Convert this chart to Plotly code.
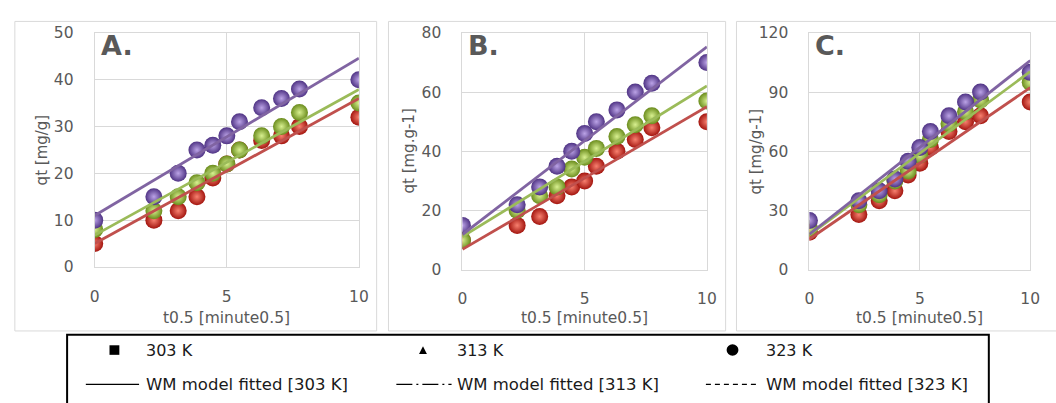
import plotly.graph_objects as go

# ---- data -------------------------------------------------------------
sqrt_t = [0, 2.24, 3.16, 3.87, 4.47, 5.0, 5.48, 6.32, 7.07, 7.75, 10]

temps = ["303 K", "313 K", "323 K"]
panel_letters = ["A.", "B.", "C."]
y_titles = ["qt [mg/g]", "qt [mg.g-1]", "qt [mg/g-1]"]
x_title = "t0.5 [minute0.5]"

# adsorbed amount qt for each panel, one list per temperature
qt_A_303 = [5, 10, 12, 15, 19, 22, 25, 27, 28, 30, 32]
qt_A_313 = [8, 12, 15, 18, 20, 22, 25, 28, 30, 33, 35]
qt_A_323 = [10, 15, 20, 25, 26, 28, 31, 34, 36, 38, 40]

qt_B_303 = [10, 15, 18, 25, 28, 30, 35, 40, 44, 48, 50]
qt_B_313 = [10, 20, 25, 28, 34, 38, 41, 45, 49, 52, 57]
qt_B_323 = [15, 22, 28, 35, 40, 46, 50, 54, 60, 63, 70]

qt_C_303 = [19, 28, 35, 40, 48, 54, 62, 70, 75, 78, 85]
qt_C_313 = [21, 33, 38, 45, 50, 58, 66, 74, 80, 86, 95]
qt_C_323 = [25, 35, 40, 46, 55, 62, 70, 78, 85, 90, 100]

# Weber-Morris fitted lines: qt = intercept + slope * t^0.5
wm_intercept_A = [5.0, 6.8, 11.0]
wm_slope_A = [3.10, 3.11, 3.36]
wm_intercept_B = [6.9, 11.2, 11.9]
wm_slope_B = [4.82, 5.09, 6.34]
wm_intercept_C = [15.6, 17.7, 18.0]
wm_slope_C = [7.67, 8.27, 8.80]

y_max = [50, 80, 120]
y_dtick = [10, 20, 30]
x_fit = [0, 10]

panels = [
    ([qt_A_303, qt_A_313, qt_A_323], wm_intercept_A, wm_slope_A),
    ([qt_B_303, qt_B_313, qt_B_323], wm_intercept_B, wm_slope_B),
    ([qt_C_303, qt_C_313, qt_C_323], wm_intercept_C, wm_slope_C),
]

# ---- styling ------------------------------------------------------------
W, H = 1056, 403
line_colors = ["#C0504D", "#9BBB59", "#8064A2"]
sphere_edge = ["#A3150F", "#6A8C1C", "#4F3384"]
sphere_core = ["#F7806F", "#D8F090", "#BBA3E6"]
grid = "#D9D9D9"
tick_gray = "#595959"
FONT = "DejaVu Sans"

# plot areas in pixels: (left, right, top, bottom)
areas = [(91, 359, 25, 270), (464, 712, 25, 273), (816, 1040, 25, 273)]
# outer panel frames in pixels
frames = [(10, 377, 13, 337), (389, 731, 13, 337), (742, 1070, 13, 337)]


def px(x):
    return x / W


def py(y):
    return 1 - y / H


fig = go.Figure()
annotations = []
shapes = []

for i, (series, icpt, slope) in enumerate(panels):
    sfx = "" if i == 0 else str(i + 1)
    xa, ya = "x" + sfx, "y" + sfx
    for k, qt in enumerate(series):
        fig.add_trace(go.Scatter(
            x=sqrt_t, y=qt, mode="markers", xaxis=xa, yaxis=ya,
            showlegend=False, name=temps[k],
            marker=dict(size=17, color=sphere_edge[k], line=dict(width=0),
                        gradient=dict(type="radial", color=sphere_core[k])),
        ))
    for k in range(3):
        fig.add_trace(go.Scatter(
            x=x_fit, y=[icpt[k] + slope[k] * x for x in x_fit],
            mode="lines", xaxis=xa, yaxis=ya, showlegend=False,
            line=dict(color=line_colors[k], width=2.8),
            name="WM model fitted [" + temps[k] + "]",
        ))

    l, r, t, b = areas[i]
    axis_common = dict(showgrid=True, gridcolor=grid, gridwidth=1,
                       showline=True, linecolor=grid, linewidth=1, mirror=True,
                       zeroline=False, ticks="", fixedrange=True,
                       tickfont=dict(family=FONT, size=15.5, color=tick_gray))
    fig.update_layout(**{
        "xaxis" + sfx: dict(domain=[px(l), px(r)], range=[0, 10], dtick=5,
                            anchor=ya, ticklabelstandoff=15, **axis_common),
        "yaxis" + sfx: dict(domain=[py(b), py(t)], range=[0, y_max[i]],
                            dtick=y_dtick[i], anchor=xa,
                            ticklabelstandoff=17, **axis_common),
    })

    fl, fr, ft, fb = frames[i]
    shapes.append(dict(type="rect", xref="paper", yref="paper",
                       x0=px(fl), x1=px(fr), y0=py(fb), y1=py(ft),
                       line=dict(color=grid, width=1), layer="below"))

    annotations.append(dict(text="<b>" + panel_letters[i] + "</b>",
                            xref="paper", yref="paper",
                            x=px(l + 4), y=py(38), xanchor="left",
                            yanchor="middle", showarrow=False,
                            font=dict(family=FONT, size=27, color="#595959")))
    annotations.append(dict(text=y_titles[i], xref="paper", yref="paper",
                            x=px(l - 54), y=py((t + b) / 2), textangle=-90,
                            xanchor="center", yanchor="middle", showarrow=False,
                            font=dict(family=FONT, size=15, color=tick_gray)))
    annotations.append(dict(text=x_title, xref="paper", yref="paper",
                            x=px((l + r) / 2), y=py(323), xanchor="center",
                            yanchor="middle", showarrow=False,
                            font=dict(family=FONT, size=15.5, color=tick_gray)))

# ---- legend box drawn below the panels ---------------------------------
shapes.append(dict(type="rect", xref="paper", yref="paper",
                   x0=px(63), x1=px(998), y0=py(430), y1=py(341),
                   line=dict(color="black", width=2)))
row1, row2 = 357, 393
ink = "#1A1A1A"
# symbols
shapes.append(dict(type="rect", xref="paper", yref="paper",
                   x0=px(106), x1=px(116), y0=py(362), y1=py(352),
                   fillcolor="black", line=dict(width=0)))
shapes.append(dict(type="path", xref="paper", yref="paper",
                   path=f"M {px(420)} {py(361)} L {px(428)} {py(361)} "
                        f"L {px(424)} {py(353)} Z",
                   fillcolor="black", line=dict(width=0)))
shapes.append(dict(type="circle", xref="paper", yref="paper",
                   x0=px(732), x1=px(744), y0=py(363), y1=py(351),
                   fillcolor="black", line=dict(width=0)))
# line samples
for (x0, x1, dash) in [(82, 136, "solid"), (397, 453, "16px,4px,2px,4px"),
                       (711, 763, "5px,4px")]:
    shapes.append(dict(type="line", xref="paper", yref="paper",
                       x0=px(x0), x1=px(x1), y0=py(row2), y1=py(row2),
                       line=dict(color="black", width=1.3, dash=dash)))

legend_x = [141, 456, 770]
for k in range(3):
    annotations.append(dict(text=temps[k], xref="paper", yref="paper",
                            x=px(legend_x[k]), y=py(row1), xanchor="left",
                            yanchor="middle", showarrow=False,
                            font=dict(family=FONT, size=16, color=ink)))
    annotations.append(dict(text="WM model fitted [" + temps[k] + "]",
                            xref="paper", yref="paper",
                            x=px(legend_x[k]), y=py(row2), xanchor="left",
                            yanchor="middle", showarrow=False,
                            font=dict(family=FONT, size=16.5, color=ink)))

fig.update_layout(
    width=W, height=H, margin=dict(l=0, r=0, t=0, b=0),
    paper_bgcolor="white", plot_bgcolor="white",
    showlegend=False, shapes=shapes, annotations=annotations,
)

fig.write_html("out.html", config={"displayModeBar": False})
